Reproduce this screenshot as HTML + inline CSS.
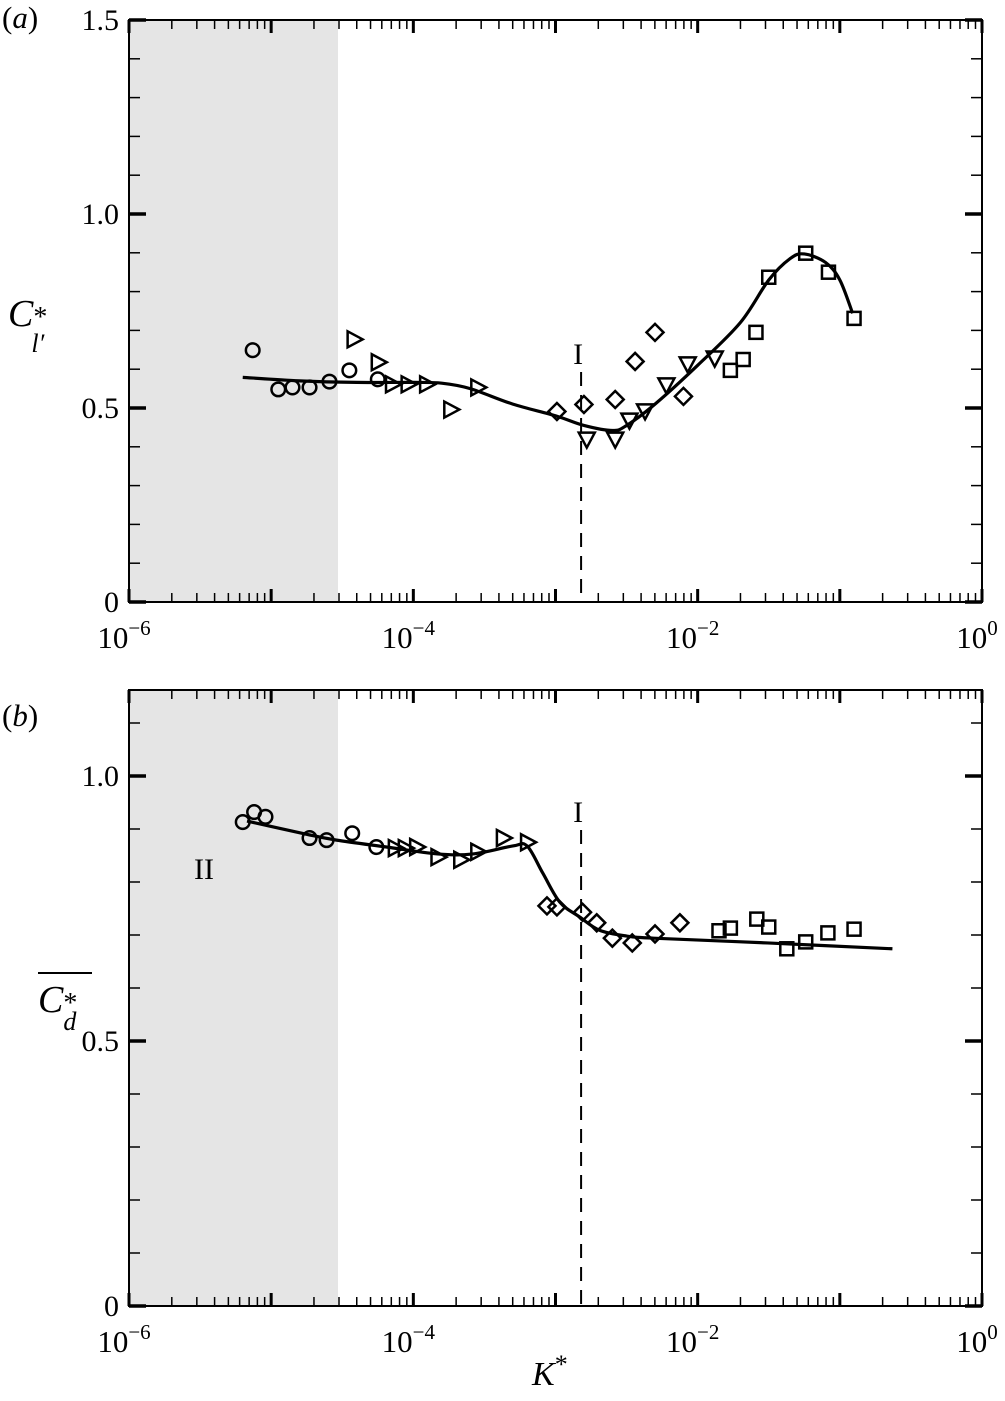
<!DOCTYPE html>
<html><head><meta charset="utf-8">
<style>
html,body{margin:0;padding:0;background:#fff;}
svg{display:block;font-family:"Liberation Serif",serif;}
</style></head>
<body>
<svg id="fig" width="1005" height="1401" viewBox="0 0 1005 1401" xmlns="http://www.w3.org/2000/svg"></svg>
<script>
// ---------- data ----------
const xTickExps = [-6,-4,-2,0];
const aYTicks = [0,0.5,1.0,1.5];
const aYTickLabels = ["0","0.5","1.0","1.5"];
const bYTicks = [0,0.5,1.0];
const bYTickLabels = ["0","0.5","1.0"];
const shadeEndLog = -4.53;
const dashedLog = -2.82;

// panel a (log10 K*, value)
const aCircleX = [-5.13,-4.95,-4.85,-4.73,-4.59,-4.45,-4.25];
const aCircleY = [0.649,0.548,0.553,0.553,0.568,0.597,0.574];
const aRightX = [-4.42,-4.25,-4.15,-4.04,-3.91,-3.74,-3.55];
const aRightY = [0.677,0.618,0.561,0.561,0.561,0.496,0.553];
const aDiamondX = [-2.99,-2.80,-2.58,-2.44,-2.30,-2.10];
const aDiamondY = [0.491,0.509,0.522,0.620,0.695,0.530];
const aDownX = [-2.78,-2.58,-2.48,-2.37,-2.22,-2.07,-1.88];
const aDownY = [0.421,0.421,0.470,0.494,0.561,0.615,0.630];
const aSquareX = [-1.77,-1.68,-1.59,-1.50,-1.24,-1.08,-0.90];
const aSquareY = [0.597,0.625,0.695,0.837,0.899,0.850,0.731];
const aCurveX = [-5.2,-4.8,-4.4,-4.0,-3.8,-3.6,-3.3,-3.0,-2.8,-2.6,-2.5,-2.3,-2.0,-1.7,-1.5,-1.35,-1.25,-1.1,-1.0,-0.91];
const aCurveY = [0.579,0.570,0.566,0.566,0.564,0.550,0.510,0.480,0.455,0.442,0.455,0.510,0.610,0.720,0.830,0.885,0.897,0.875,0.830,0.744];

// panel b
const bCircleX = [-5.20,-5.12,-5.04,-4.73,-4.61,-4.43,-4.26];
const bCircleY = [0.913,0.932,0.923,0.883,0.879,0.892,0.866];
const bRightX = [-4.13,-4.06,-3.98,-3.83,-3.67,-3.55,-3.37,-3.20];
const bRightY = [0.864,0.864,0.866,0.847,0.842,0.857,0.883,0.875];
const bDiamondX = [-3.06,-2.99,-2.81,-2.71,-2.60,-2.46,-2.30,-2.125];
const bDiamondY = [0.755,0.753,0.743,0.723,0.694,0.685,0.702,0.723];
const bSquareX = [-1.85,-1.77,-1.584,-1.50,-1.373,-1.24,-1.084,-0.90];
const bSquareY = [0.708,0.713,0.730,0.715,0.674,0.687,0.704,0.711];
const bCurveX = [-5.17,-4.75,-4.54,-4.19,-3.83,-3.58,-3.30,-3.20,-3.09,-2.97,-2.83,-2.69,-2.50,-2.31,-1.51,-0.63];
const bCurveY = [0.915,0.890,0.879,0.866,0.853,0.853,0.868,0.868,0.817,0.762,0.734,0.709,0.698,0.694,0.685,0.674];

// ---------- drawing ----------
const NS = "http://www.w3.org/2000/svg";
const svg = document.getElementById('fig');
function mk(tag, attrs, parent){
  const e = document.createElementNS(NS, tag);
  for (const k in attrs) e.setAttribute(k, attrs[k]);
  (parent||svg).appendChild(e);
  return e;
}
const L = 129, R = 982;
function xs(lg){ return L + (lg + 6) * (R - L) / 6; }

function panel(cfg){
  const g = mk('g', {});
  
  
  const ys = v => cfg.y0 - v * cfg.unit;
  const T = cfg.top, B = cfg.y0;
  const sh = mk('rect', {x:L, y:T, width:xs(shadeEndLog)-L, height:B-T, fill:'#e5e5e5'}, g);
  
  
  const box = mk('rect', {x:L, y:T, width:R-L, height:B-T, fill:'none', stroke:'#000', 'stroke-width':2}, g);
  
  
  for (let d = -6; d <= 0; d++){
    const x = xs(d);
    mk('line', {x1:x, x2:x, y1:B, y2:B-13, stroke:'#000', 'stroke-width':3}, g);
    mk('line', {x1:x, x2:x, y1:T, y2:T+13, stroke:'#000', 'stroke-width':3}, g);
    if (d < 0) for (let m = 2; m <= 9; m++){
      const xm = xs(d + Math.log10(m));
      mk('line', {x1:xm, x2:xm, y1:B, y2:B-9, stroke:'#000', 'stroke-width':1.5}, g);
      mk('line', {x1:xm, x2:xm, y1:T, y2:T+9, stroke:'#000', 'stroke-width':1.5}, g);
    }
  }
  for (let i = 0; i * 0.1 <= cfg.ymax + 1e-9; i++){
    const y = ys(i * 0.1);
    const major = i % 5 === 0;
    const len = major ? 17 : 11, w = major ? 3.5 : 1.5;
    mk('line', {x1:L, x2:L+len, y1:y, y2:y, stroke:'#000', 'stroke-width':w}, g);
    mk('line', {x1:R, x2:R-len, y1:y, y2:y, stroke:'#000', 'stroke-width':w}, g);
  }
  cfg.yTicks.forEach((v, i) => {
    const t = mk('text', {x:L-10, y:ys(v)+10, 'text-anchor':'end', 'font-size':30}, g);
    t.textContent = cfg.yLabels[i];
    
    
  });
  xTickExps.forEach(e => {
    const t = mk('text', {x:xs(e)-5, y:B+46, 'text-anchor':'middle', 'font-size':31}, g);
    
    
    t.textContent = '10';
    const s = mk('tspan', {dy:-13, 'font-size':21}, t);
    s.textContent = (e < 0 ? '\u2212' : '') + Math.abs(e);
  });
  const dl = mk('line', {x1:xs(dashedLog), x2:xs(dashedLog), y1:cfg.dashTop, y2:B, stroke:'#000', 'stroke-width':2, 'stroke-dasharray':'14,9'}, g);
  
  
  const il = mk('text', {x:xs(dashedLog)-3, y:cfg.dashTop-8, 'text-anchor':'middle', 'font-size':30}, g);
  il.textContent = 'I';
  
  
  const px = cfg.cx.map(xs), py = cfg.cy.map(ys);
  let d = `M${px[0]},${py[0]}`;
  for (let i = 0; i < px.length - 1; i++){
    const i0 = Math.max(0, i-1), i3 = Math.min(px.length-1, i+2);
    const c1x = px[i] + (px[i+1]-px[i0])/6, c1y = py[i] + (py[i+1]-py[i0])/6;
    const c2x = px[i+1] - (px[i3]-px[i])/6, c2y = py[i+1] - (py[i3]-py[i])/6;
    d += ` C${c1x},${c1y} ${c2x},${c2y} ${px[i+1]},${py[i+1]}`;
  }
  const cp = mk('path', {d, fill:'none', stroke:'#000', 'stroke-width':3.2}, g);
  
  
  const st = {fill:'none', stroke:'#000', 'stroke-width':2.5};
  function marker(type, lx, v){
    const x = xs(lx), y = ys(v);
    let e;
    if (type === 'circle') e = mk('circle', Object.assign({cx:x, cy:y, r:6.8}, st), g);
    else if (type === 'square') e = mk('rect', Object.assign({x:x-6.5, y:y-6.5, width:13, height:13}, st), g);
    else if (type === 'diamond') e = mk('polygon', Object.assign({points:`${x},${y-8.5} ${x+8.5},${y} ${x},${y+8.5} ${x-8.5},${y}`}, st), g);
    else if (type === 'right') e = mk('polygon', Object.assign({points:`${x-6},${y-8} ${x+9},${y} ${x-6},${y+8}`}, st), g);
    else e = mk('polygon', Object.assign({points:`${x-8},${y-6} ${x+8},${y-6} ${x},${y+9}`}, st), g);
    
    
  }
  cfg.series.forEach(s => s.x.forEach((lx, i) => marker(s.type, lx, s.y[i])));
}

panel({name:'panel-a', y0:602, unit:388, top:20, ymax:1.5, yTicks:aYTicks, yLabels:aYTickLabels, dashTop:372,
  cx:aCurveX, cy:aCurveY,
  series:[{type:'circle',x:aCircleX,y:aCircleY},{type:'right',x:aRightX,y:aRightY},{type:'diamond',x:aDiamondX,y:aDiamondY},{type:'down',x:aDownX,y:aDownY},{type:'square',x:aSquareX,y:aSquareY}]});
panel({name:'panel-b', y0:1306, unit:530, top:690, ymax:1.16, yTicks:bYTicks, yLabels:bYTickLabels, dashTop:830,
  cx:bCurveX, cy:bCurveY,
  series:[{type:'circle',x:bCircleX,y:bCircleY},{type:'right',x:bRightX,y:bRightY},{type:'diamond',x:bDiamondX,y:bDiamondY},{type:'square',x:bSquareX,y:bSquareY}]});
</script>
<div style="position:absolute;left:0;top:0;width:1005px;height:1401px;pointer-events:none;font-family:'Liberation Serif',serif;">
  <div style="position:absolute;left:2px;top:0px;font-size:31px;">(<i>a</i>)</div>
  <div style="position:absolute;left:2px;top:698px;font-size:31px;">(<i>b</i>)</div>
  <div style="position:absolute;left:8px;top:292px;font-size:38px;line-height:44px;"><i>C</i><span style="position:relative;display:inline-block;width:24px;height:10px;"><span style="position:absolute;left:0px;top:-20px;font-size:28px;">*</span><span style="position:absolute;left:-2px;top:6px;font-size:26px;"><i>l′</i></span></span></div>
  <div style="position:absolute;left:38px;top:972px;font-size:38px;line-height:44px;border-top:2px solid #000;padding-top:4px;width:54px;"><i>C</i><span style="position:relative;display:inline-block;width:20px;height:10px;"><span style="position:absolute;left:0px;top:-20px;font-size:28px;">*</span><span style="position:absolute;left:0px;top:-2px;font-size:26px;"><i>d</i></span></span></div>
  <div style="position:absolute;left:194px;top:853px;font-size:30px;">II</div>
  <div style="position:absolute;left:532px;top:1356px;font-size:34px;"><i>K</i><span style="font-size:26px;position:relative;top:-12px;">*</span></div>
</div>
</body></html>
